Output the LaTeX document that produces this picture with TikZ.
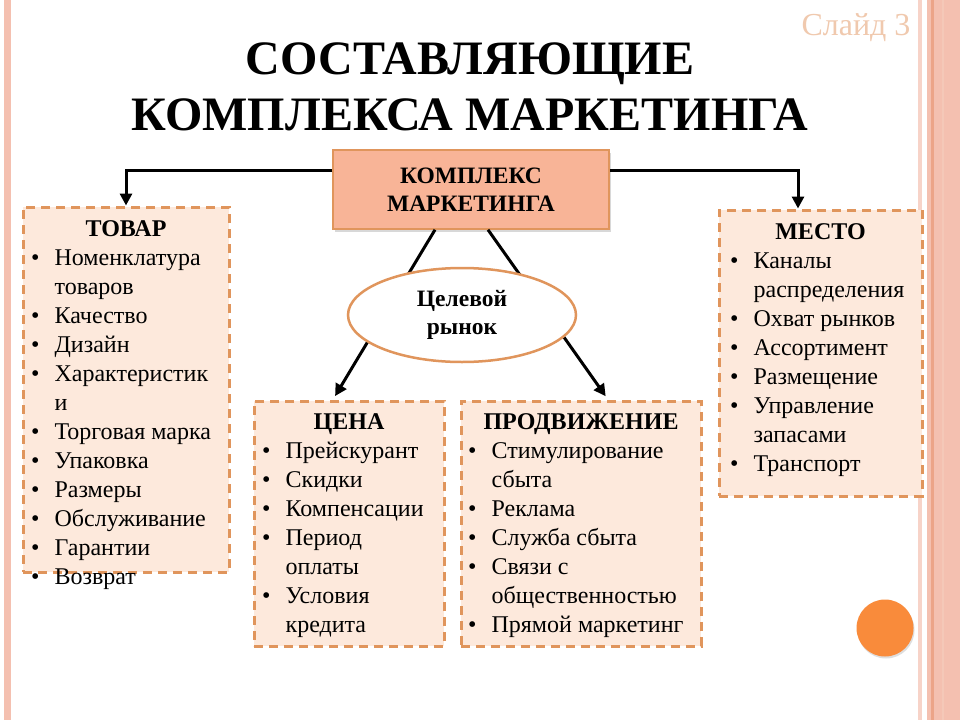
\documentclass[tikz,border=0pt]{standalone}
\usepackage{fontspec}
\setmainfont{Liberation Serif}
\usetikzlibrary{arrows.meta, shapes.geometric, shadows}

\definecolor{peach}{HTML}{FDE9DC}
\definecolor{dashorange}{HTML}{E0955C}
\definecolor{salmon}{HTML}{F8B497}
\definecolor{stripe}{HTML}{F4C0B0}
\definecolor{stripedark}{HTML}{ECA488}
\definecolor{slidegray}{HTML}{F0C9AE}
\definecolor{dotorange}{HTML}{F98B3B}

\begin{document}
\begin{tikzpicture}[x=1pt, y=-1pt,
  box/.style={rectangle, draw=dashorange, fill=peach, line width=3pt, dash pattern=on 9pt off 6pt},
  head/.style={font=\fontsize{24}{29}\selectfont\bfseries},
  list/.style={font=\fontsize{24}{29}\selectfont, anchor=north west, inner sep=0pt},
  conn/.style={line width=3pt, -{Triangle[length=12pt,width=12pt]}}]

  % Page and side stripes
  \useasboundingbox[fill=white] (0,0) rectangle (960,720);
  \fill[stripe] (4,0) rectangle (11,720);
  \fill[stripe!70] (918,0) rectangle (922,720);
  \fill[stripe] (927,0) rectangle (960,720);
  \fill[stripedark] (931,0) rectangle (934,720);
  \fill[stripedark!60] (942,0) rectangle (944,720);

  % Slide number and title
  \node[anchor=east, text=slidegray, font=\fontsize{32}{32}\selectfont] (slide) at (914,28) {Слайд 3};
  \node[anchor=base, font=\fontsize{48}{56}\selectfont\bfseries] (title1) at (470,74) {СОСТАВЛЯЮЩИЕ};
  \node[anchor=base, font=\fontsize{48}{56}\selectfont\bfseries] (title2) at (470,130) {КОМПЛЕКСА МАРКЕТИНГА};

  % Boxes
  \node[box, minimum width=206, minimum height=365] (tovar) at (126,389.5) {};
  \node[box, minimum width=190, minimum height=245] (cena) at (349,523.5) {};
  \node[box, minimum width=240, minimum height=245] (prodv) at (581,523.5) {};
  \node[box, minimum width=203, minimum height=286] (mesto) at (820.5,353) {};

  % Centre box
  \node[rectangle, draw=dashorange, fill=salmon, line width=1.5pt, minimum width=276, minimum height=79,
    drop shadow={shadow xshift=2pt, shadow yshift=-3pt, fill=gray!60},
    align=center, font=\fontsize{23.5}{28}\selectfont\bfseries] (kompl) at (471,189.5) {КОМПЛЕКС\\МАРКЕТИНГА};

  % Connectors
  \draw[conn] ([yshift=19.5pt]kompl.west) -| (tovar.north);
  \draw[conn] ([yshift=19.5pt]kompl.east) -| ([xshift=-22.5pt]mesto.north);
  \draw[conn, shorten >=4pt] ([xshift=-36pt]kompl.south) -- ([xshift=-16pt]cena.north);
  \draw[conn, shorten >=4pt] ([xshift=17pt]kompl.south) -- ([xshift=27pt]prodv.north);

  % Target market
  \node[ellipse, draw=dashorange, fill=white, line width=2.5pt, minimum width=228, minimum height=94,
    align=center, font=\fontsize{23.5}{28}\selectfont\bfseries] (rynok) at (462,315) {Целевой\\рынок};

  % Headers
  \node[head] (tovarhead) at (126,229) {ТОВАР};
  \node[head] (cenahead) at (349,424) {ЦЕНА};
  \node[head] (prodvhead) at (581,424) {ПРОДВИЖЕНИЕ};
  \node[head] (mestohead) at (820.5,232) {МЕСТО};

  % Lists
  \node[list] (tovarlist) at (31,245) {\begin{tabular}{@{}l@{\hspace{15pt}}l@{}}
    \textbullet & Номенклатура\\ & товаров\\
    \textbullet & Качество\\
    \textbullet & Дизайн\\
    \textbullet & Характеристик\\ & и\\
    \textbullet & Торговая марка\\
    \textbullet & Упаковка\\
    \textbullet & Размеры\\
    \textbullet & Обслуживание\\
    \textbullet & Гарантии\\
    \textbullet & Возврат
  \end{tabular}};
  \node[list] (cenalist) at (262,438) {\begin{tabular}{@{}l@{\hspace{15pt}}l@{}}
    \textbullet & Прейскурант\\
    \textbullet & Скидки\\
    \textbullet & Компенсации\\
    \textbullet & Период\\ & оплаты\\
    \textbullet & Условия\\ & кредита
  \end{tabular}};
  \node[list] (prodvlist) at (468,438) {\begin{tabular}{@{}l@{\hspace{15pt}}l@{}}
    \textbullet & Стимулирование\\ & сбыта\\
    \textbullet & Реклама\\
    \textbullet & Служба сбыта\\
    \textbullet & Связи с\\ & общественностью\\
    \textbullet & Прямой маркетинг
  \end{tabular}};
  \node[list] (mestolist) at (730,248) {\begin{tabular}{@{}l@{\hspace{15pt}}l@{}}
    \textbullet & Каналы\\ & распределения\\
    \textbullet & Охват рынков\\
    \textbullet & Ассортимент\\
    \textbullet & Размещение\\
    \textbullet & Управление\\ & запасами\\
    \textbullet & Транспорт
  \end{tabular}};

  % Orange dot
  \node[circle, fill=dotorange, minimum size=57, inner sep=0pt,
    drop shadow={shadow xshift=1pt, shadow yshift=-2pt, fill=gray!50}] (dot) at (885,628) {};
\end{tikzpicture}
\end{document}
